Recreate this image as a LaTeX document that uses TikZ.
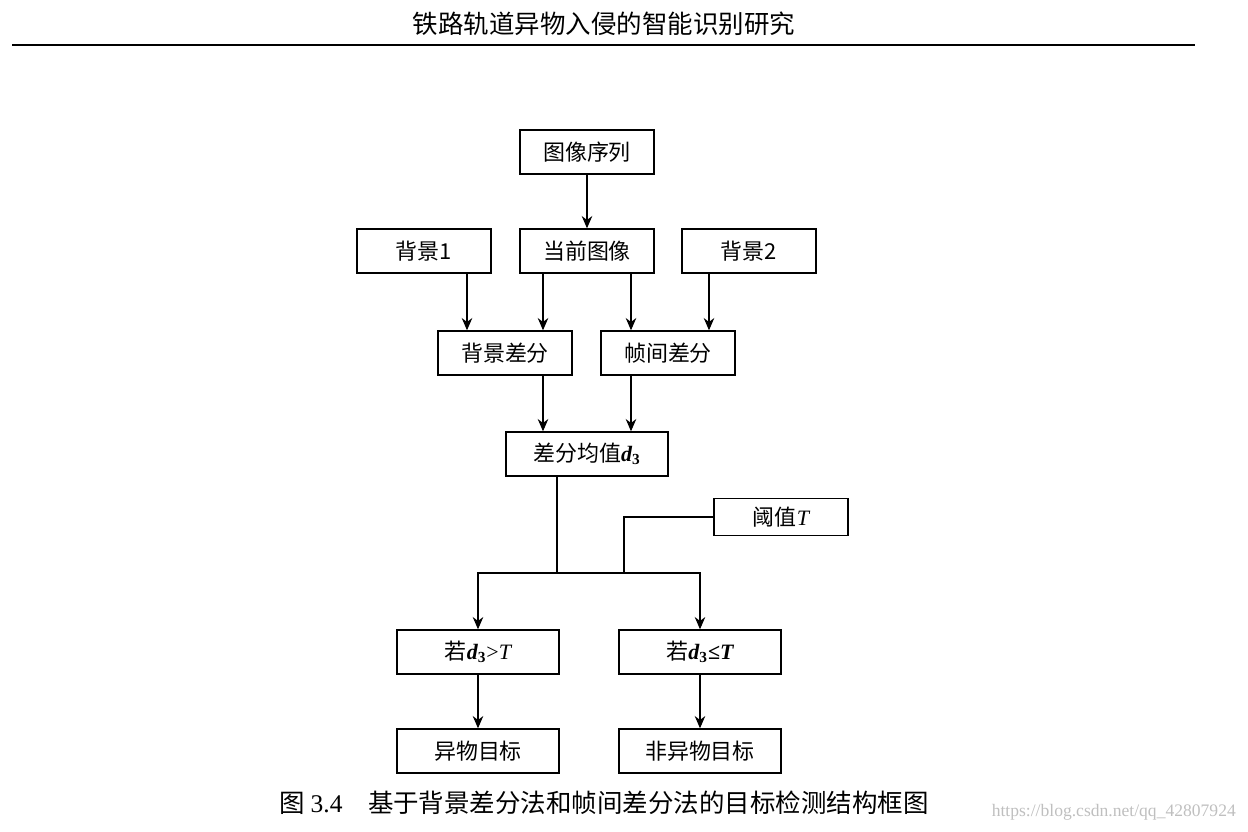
\documentclass[tikz,border=0pt]{standalone}
\usepackage{fontspec}
\setmainfont{Liberation Serif}
\newfontfamily\cjk{Noto Sans CJK SC}
\usetikzlibrary{arrows.meta}
\newcommand{\dd}{{\rmfamily\bfseries\itshape d}\textsubscript{\rmfamily\bfseries 3}}
\begin{document}
\begin{tikzpicture}[x=0.02cm,y=-0.02cm]
    \tikzset{box/.style={draw, thick, rectangle, minimum width=2.68cm, minimum height=0.88cm, inner sep=1pt, font=\cjk\fontsize{12.5}{14}\selectfont},
             wide/.style={box, minimum width=3.24cm},
             arr/.style={-{Stealth[length=7pt,width=6pt]}, semithick},
             line/.style={semithick}}
    \useasboundingbox (0,0) rectangle (1248,832);
    % header and caption
    \node[font=\cjk\fontsize{14.5}{16}\selectfont] (head) at (604,24) {铁路轨道异物入侵的智能识别研究};
    \draw[semithick] (12,45) -- (1195,45);
    \node[font=\cjk\fontsize{14.5}{16}\selectfont] (cap) at (604,803) {图 {\rmfamily 3.4}\quad 基于背景差分法和帧间差分法的目标检测结构框图};
    \node[font=\fontsize{10}{12}\selectfont, text=black!25, anchor=east] (mark) at (1242,812) {https://blog.csdn.net/qq\_42807924};
    % boxes
    \node[box] (seq) at (587,152) {图像序列};
    \node[box] (bg1) at (424,251) {背景1};
    \node[box] (cur) at (587,251) {当前图像};
    \node[box] (bg2) at (749,251) {背景2};
    \node[box] (bgd) at (505,353) {背景差分};
    \node[box] (frd) at (668,353) {帧间差分};
    \node[wide] (mean) at (587,454) {差分均值\dd};
    \node[box, minimum height=0.74cm] (thr) at (781,517) {阈值{\rmfamily\itshape T}};
    \node[wide] (gt) at (478,652) {若\dd{\rmfamily >\itshape T}};
    \node[wide] (le) at (700,652) {若\dd{\rmfamily\bfseries ≤\itshape T}};
    \node[wide] (obj) at (478,751) {异物目标};
    \node[wide] (nobj) at (700,751) {非异物目标};
    % connectors
    \draw[arr] (seq) -- (cur);
    \draw[arr] (bg1.south -| 467,0) -- (bgd.north -| 467,0);
    \draw[arr] (cur.south -| 543,0) -- (bgd.north -| 543,0);
    \draw[arr] (cur.south -| 631,0) -- (frd.north -| 631,0);
    \draw[arr] (bg2.south -| 709,0) -- (frd.north -| 709,0);
    \draw[arr] (bgd.south -| 543,0) -- (mean.north -| 543,0);
    \draw[arr] (frd.south -| 631,0) -- (mean.north -| 631,0);
    \coordinate (join) at (557,573);
    \draw[line] (mean.south -| join) -- (join);
    \draw[line] (thr.west) -| (624,573);
    \draw[arr] (join) -| (gt.north);
    \draw[arr] (join) -| (le.north);
    \draw[arr] (gt) -- (obj);
    \draw[arr] (le) -- (nobj);
\end{tikzpicture}
\end{document}
